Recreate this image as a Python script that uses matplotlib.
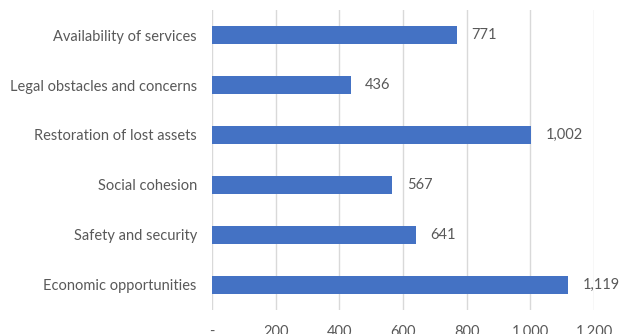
import matplotlib.pyplot as plt
from matplotlib.ticker import FuncFormatter

categories = ['Economic opportunities', 'Safety and security', 'Social cohesion',
              'Restoration of lost assets', 'Legal obstacles and concerns',
              'Availability of services']
values = [1119, 641, 567, 1002, 436, 771]
xticks = [0, 200, 400, 600, 800, 1000, 1200]

plt.rcParams['font.family'] = ['Lato', 'DejaVu Sans']
text_color = '#595959'

fig = plt.figure(figsize=(6.2, 3.34), dpi=100)
ax = fig.add_axes([0.342, 0.072, 0.616, 0.898])

pos = range(len(categories))
ax.barh(pos, values, height=0.36, color='#4472C4', zorder=3)
for p, v in zip(pos, values):
    ax.text(v + 45, p, f'{v:,}', va='center', ha='left', fontsize=10.5, color=text_color)

ax.set_ylim(-0.5, len(categories) - 0.5)
ax.set_xlim(0, 1200)
ax.set_yticks(list(pos))
ax.set_yticklabels(categories)
ax.set_xticks(xticks)
ax.xaxis.set_major_formatter(FuncFormatter(lambda x, _: '-' if x == 0 else f'{int(x):,}'))
ax.tick_params(axis='both', length=0, colors=text_color, labelsize=10.5)
ax.tick_params(axis='y', pad=11)
ax.tick_params(axis='x', pad=11)
ax.grid(axis='x', color='#d9d9d9', linewidth=1, zorder=0)
for s in ax.spines.values():
    s.set_visible(False)

fig.savefig('out.png', dpi=100)
